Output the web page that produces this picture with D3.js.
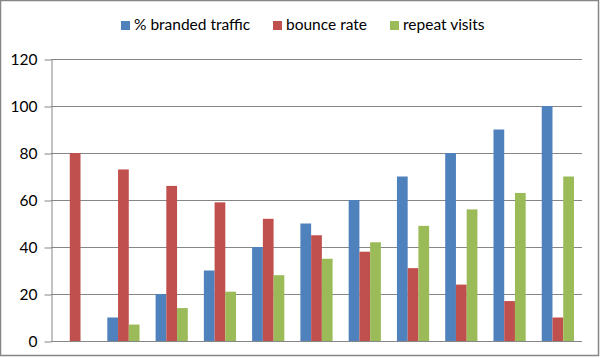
<!DOCTYPE html>
<html><head><meta charset="utf-8">
<script src="https://cdn.jsdelivr.net/npm/d3@7"></script>
<style>body{margin:0;background:#fff}svg{display:block}</style>
</head><body>
<script>
const categories = ["1","2","3","4","5","6","7","8","9","10","11"];
const seriesNames = ["% branded traffic","bounce rate","repeat visits"];
const branded = [0,10,20,30,40,50,60,70,80,90,100];
const bounce = [80,73,66,59,52,45,38,31,24,17,10];
const repeat = [0,7,14,21,28,35,42,49,56,63,70];
const yTicks = [0,20,40,60,80,100,120];
const colors = ["#4F81BD","#C0504D","#9BBB59"];

(function(){
const W=600,H=358;
const svg=d3.select("body").append("svg").attr("width",W).attr("height",H);
svg.append("rect").attr("x",0.5).attr("y",0.5).attr("width",W-2).attr("height",H-3)
  .attr("fill","#fff").attr("stroke","#868686").attr("stroke-width",1.5);

const pL=51,pR=582,pT=59,pB=341;
const y=d3.scaleLinear().domain([0,120]).range([pB,pT]);
const x0=d3.scaleBand().domain(categories).range([pL,pR]).paddingInner(0.333).paddingOuter(0.1667);
const x1=d3.scaleBand().domain(seriesNames).range([0,x0.bandwidth()]);

const font="Lato, 'Open Sans', sans-serif";
svg.append("g").selectAll("line").data(yTicks).join("line")
  .attr("x1",pL).attr("x2",pR).attr("y1",d=>Math.round(y(d))+0.5).attr("y2",d=>Math.round(y(d))+0.5)
  .attr("stroke","#868686").attr("stroke-width",1);
const ya=svg.append("g").attr("transform",`translate(${pL+0.5},0.5)`)
  .call(d3.axisLeft(y).tickValues(yTicks).tickSize(7).tickPadding(7).tickSizeOuter(0));
ya.select(".domain").attr("stroke","#868686");
ya.selectAll(".tick line").attr("stroke","#868686");
ya.selectAll("text").attr("font-family",font).attr("font-size",15.5).attr("fill","#000");

const data=[branded,bounce,repeat];
const g=svg.append("g");
categories.forEach((c,i)=>{
  seriesNames.forEach((s,j)=>{
    const v=data[j][i];
    g.append("rect").attr("x",x0(c)+x1(s)).attr("width",x1.bandwidth())
      .attr("y",y(v)).attr("height",y(0)-y(v)).attr("fill",colors[j]);
  });
});
svg.append("line").attr("x1",pL).attr("x2",pR).attr("y1",Math.round(y(0))+0.5).attr("y2",Math.round(y(0))+0.5)
  .attr("stroke","#868686");

const legX=[121,273,390];
const lg=svg.append("g");
seriesNames.forEach((s,j)=>{
  lg.append("rect").attr("x",legX[j]).attr("y",21).attr("width",9).attr("height",9).attr("fill",colors[j]);
  lg.append("text").attr("x",legX[j]+13).attr("y",30).text(s)
    .attr("font-family",font).attr("font-size",15.5).attr("fill","#000");
});
})();
</script>
</body></html>
